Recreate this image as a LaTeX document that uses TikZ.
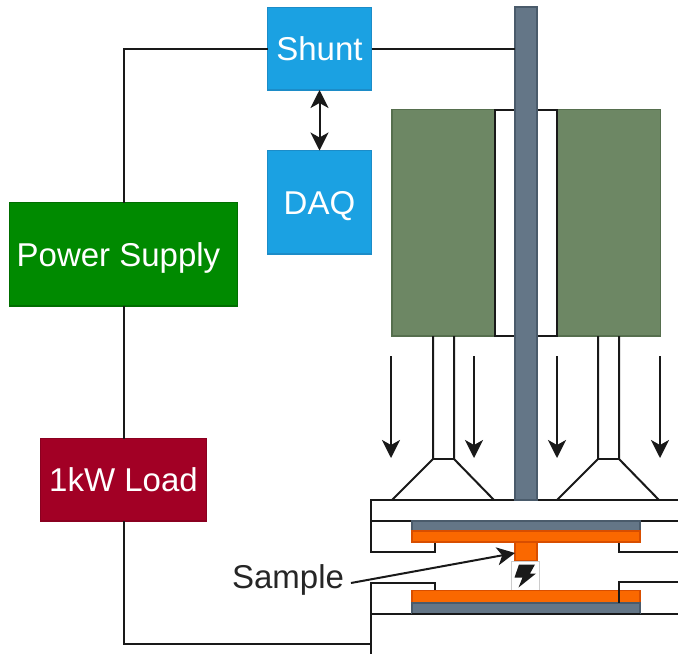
\documentclass[tikz,border=0pt]{standalone}
\usepackage{fontspec}
\setmainfont{Liberation Sans}
\usetikzlibrary{arrows.meta,calc}
\definecolor{bluef}{HTML}{1BA1E2}\definecolor{blued}{HTML}{1C8CC8}
\definecolor{greenf}{HTML}{008A00}\definecolor{greend}{HTML}{006E00}
\definecolor{redf}{HTML}{A20025}\definecolor{redd}{HTML}{8A0020}
\definecolor{olivef}{HTML}{6D8764}\definecolor{olived}{HTML}{566F4E}
\definecolor{slatef}{HTML}{647687}\definecolor{slated}{HTML}{4A5B6B}
\definecolor{orangef}{HTML}{FA6800}\definecolor{oranged}{HTML}{D84E00}
\tikzset{
  x=1pt,y=-1pt,
  wire/.style={draw=black!90,line width=2pt},
  flow/.style={wire,-{Stealth[length=18pt,width=18pt,inset=5pt]}},
  both/.style={wire,{Stealth[length=18pt,width=18pt,inset=5pt]}-{Stealth[length=18pt,width=18pt,inset=5pt]}},
  pointer/.style={wire,-{Stealth[length=18pt,width=18pt,inset=5pt]}},
  block/.style={rectangle,inner sep=0pt,outer sep=0pt,line width=1.5pt,text=white,font=\fontsize{33}{36}\selectfont,text height=24pt,text depth=0pt},
  blue box/.style={block,fill=bluef,draw=blued,minimum width=104pt,minimum height=82.5pt},
  coil/.style={rectangle,fill=olivef,draw=olived,line width=1.5pt,minimum width=103pt,minimum height=226.5pt,inner sep=0pt,outer sep=0pt},
  gap/.style={rectangle,fill=white,draw=black!90,line width=2pt,minimum width=20pt,minimum height=226.5pt,inner sep=0pt,outer sep=0pt},
  slate/.style={rectangle,fill=slatef,draw=slated,line width=1.5pt,inner sep=0pt,outer sep=0pt},
  orangebar/.style={rectangle,fill=orangef,draw=oranged,line width=1.5pt,inner sep=0pt,outer sep=0pt},
}
\begin{document}
\begin{tikzpicture}
\useasboundingbox (0,0) rectangle (678,654);
\fill[white] (0,0) rectangle (678,654);
% coils
\node[coil] (coilL) at (443.5,222.75) {};
\node[coil] (coilR) at (609,222.75) {};
\node[gap] (gapL) at (505,222.75) {};
\node[gap] (gapR) at (547,222.75) {};
% legs and cones
\draw[wire] (433,336) -- (433,459) -- (392,500);
\draw[wire] (454,336) -- (454,459) -- (494,500);
\draw[wire] (433,459) -- (454,459);
\draw[wire] (598,336) -- (598,459) -- (557,500);
\draw[wire] (619,336) -- (619,459) -- (659,500);
\draw[wire] (598,459) -- (619,459);
% upper plate
\draw[wire] (678,500) -- (371,500) -- (371,552) -- (435,552) -- (435,542);
\draw[wire] (371,521) -- (412,521);
\draw[wire] (640,521) -- (678,521);
\draw[wire] (678,552) -- (619,552) -- (619,542);
% lower plate
\draw[wire] (435,591) -- (435,583) -- (371,583) -- (371,654);
\draw[wire] (371,613.5) -- (678,613.5);
% rod
\node[slate,minimum width=22pt,minimum height=493pt] (rod) at (526,253.5) {};
% upper electrode
\node[slate,minimum width=228pt,minimum height=10.5pt] (grayT) at (526,526) {};
\node[orangebar,minimum width=228pt,minimum height=11pt] (orT) at (526,536.5) {};
\node[orangebar,minimum width=22pt,minimum height=19pt] (stem) at (526,551.5) {};
% lightning
\node[rectangle,draw=black!20,fill=white,line width=1pt,minimum width=28pt,minimum height=29pt,inner sep=0pt,outer sep=0pt] (bolt) at (525,575.5) {};
\fill[black!90] (519,564.5) -- (535,564.5) -- (530,573.5) -- (536,573.5) -- (518.5,587.5) -- (522.5,577.5) -- (514.5,577.5) -- cycle;
% lower electrode
\node[orangebar,minimum width=228pt,minimum height=12.5pt] (orB) at (526,596.5) {};
\node[slate,minimum width=228pt,minimum height=10.5pt] (grayB) at (526,608.25) {};
\draw[wire] (678,581.5) -- (619,581.5) -- (619,603);
\draw[wire] (412,613.5) -- (640,613.5);
% instrument boxes
\node[blue box] (shunt) at (319.5,48.75) {Shunt};
\node[blue box,minimum height=103.5pt] (daq) at (319.5,202.25) {DAQ};
\node[block,fill=greenf,draw=greend,minimum width=228pt,minimum height=103.5pt] (ps) at (123.5,254.25) {\kern-10pt Power Supply};
\node[block,fill=redf,draw=redd,minimum width=166pt,minimum height=82.5pt] (load) at (123.5,479.75) {1kW Load};
% wiring
\coordinate (plateIn) at (371,644);
\draw[wire] (shunt.west) -| (ps.north);
\draw[wire] (shunt.east) -- (rod.west |- shunt.east);
\draw[wire] (ps.south) -- (load.north);
\draw[wire] (load.south) |- (plateIn);
\draw[both] (shunt.south) -- (daq.north);
% flux arrows
\coordinate (a1s) at (391,356); \coordinate (a1e) at (391,458);
\coordinate (a2s) at (474,356); \coordinate (a2e) at (474,458);
\coordinate (a3s) at (557,356); \coordinate (a3e) at (557,458);
\coordinate (a4s) at (660,356); \coordinate (a4e) at (660,458);
\draw[flow] (a1s) -- (a1e);
\draw[flow] (a2s) -- (a2e);
\draw[flow] (a3s) -- (a3e);
\draw[flow] (a4s) -- (a4e);
% sample label
\node[inner sep=0pt,outer sep=0pt,text=black!85,font=\fontsize{33}{36}\selectfont,text height=24pt,text depth=0pt] (sample) at (288,576) {Sample};
\coordinate (sampleTip) at (515,553);
\draw[pointer] ($(sample.east)+(7,7)$) -- (sampleTip);
\end{tikzpicture}
\end{document}
